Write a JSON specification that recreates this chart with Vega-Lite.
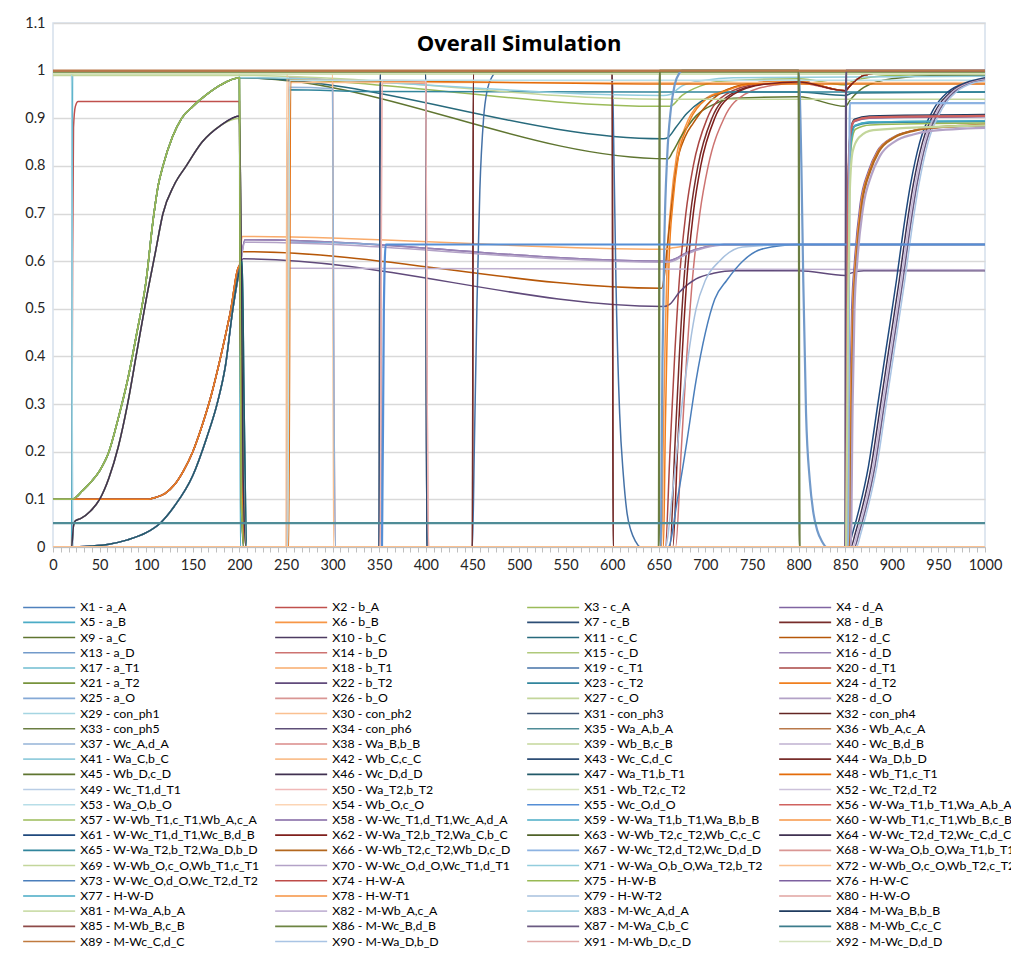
{
"$schema":"https://vega.github.io/schema/vega-lite/v6.json",
"width":932,"height":524,
"autosize":{"type":"none"},
"padding":{"left":53,"top":23,"right":26,"bottom":407},
"background":"white",
"config":{"view":{"stroke":"#D5DFEC","strokeWidth":1.5},"font":"Lato"},
"title":{"text":"Overall Simulation","fontSize":22,"fontWeight":"bold","font":"Open Sans","color":"#000000","anchor":"middle","offset":-41},
"datasets":{
"names":[
{"k":1,"n":"X1 - a_A"},{"k":2,"n":"X2 - b_A"},{"k":3,"n":"X3 - c_A"},{"k":4,"n":"X4 - d_A"},
{"k":5,"n":"X5 - a_B"},{"k":6,"n":"X6 - b_B"},{"k":7,"n":"X7 - c_B"},{"k":8,"n":"X8 - d_B"},
{"k":9,"n":"X9 - a_C"},{"k":10,"n":"X10 - b_C"},{"k":11,"n":"X11 - c_C"},{"k":12,"n":"X12 - d_C"},
{"k":13,"n":"X13 - a_D"},{"k":14,"n":"X14 - b_D"},{"k":15,"n":"X15 - c_D"},{"k":16,"n":"X16 - d_D"},
{"k":17,"n":"X17 - a_T1"},{"k":18,"n":"X18 - b_T1"},{"k":19,"n":"X19 - c_T1"},{"k":20,"n":"X20 - d_T1"},
{"k":21,"n":"X21 - a_T2"},{"k":22,"n":"X22 - b_T2"},{"k":23,"n":"X23 - c_T2"},{"k":24,"n":"X24 - d_T2"},
{"k":25,"n":"X25 - a_O"},{"k":26,"n":"X26 - b_O"},{"k":27,"n":"X27 - c_O"},{"k":28,"n":"X28 - d_O"},
{"k":29,"n":"X29 - con_ph1"},{"k":30,"n":"X30 - con_ph2"},{"k":31,"n":"X31 - con_ph3"},{"k":32,"n":"X32 - con_ph4"},
{"k":33,"n":"X33 - con_ph5"},{"k":34,"n":"X34 - con_ph6"},{"k":35,"n":"X35 - Wa_A,b_A"},{"k":36,"n":"X36 - Wb_A,c_A"},
{"k":37,"n":"X37 - Wc_A,d_A"},{"k":38,"n":"X38 - Wa_B,b_B"},{"k":39,"n":"X39 - Wb_B,c_B"},{"k":40,"n":"X40 - Wc_B,d_B"},
{"k":41,"n":"X41 - Wa_C,b_C"},{"k":42,"n":"X42 - Wb_C,c_C"},{"k":43,"n":"X43 - Wc_C,d_C"},{"k":44,"n":"X44 - Wa_D,b_D"},
{"k":45,"n":"X45 - Wb_D,c_D"},{"k":46,"n":"X46 - Wc_D,d_D"},{"k":47,"n":"X47 - Wa_T1,b_T1"},{"k":48,"n":"X48 - Wb_T1,c_T1"},
{"k":49,"n":"X49 - Wc_T1,d_T1"},{"k":50,"n":"X50 - Wa_T2,b_T2"},{"k":51,"n":"X51 - Wb_T2,c_T2"},{"k":52,"n":"X52 - Wc_T2,d_T2"},
{"k":53,"n":"X53 - Wa_O,b_O"},{"k":54,"n":"X54 - Wb_O,c_O"},{"k":55,"n":"X55 - Wc_O,d_O"},{"k":56,"n":"X56 - W-Wa_T1,b_T1,Wa_A,b_A"},
{"k":57,"n":"X57 - W-Wb_T1,c_T1,Wb_A,c_A"},{"k":58,"n":"X58 - W-Wc_T1,d_T1,Wc_A,d_A"},{"k":59,"n":"X59 - W-Wa_T1,b_T1,Wa_B,b_B"},{"k":60,"n":"X60 - W-Wb_T1,c_T1,Wb_B,c_B"},
{"k":61,"n":"X61 - W-Wc_T1,d_T1,Wc_B,d_B"},{"k":62,"n":"X62 - W-Wa_T2,b_T2,Wa_C,b_C"},{"k":63,"n":"X63 - W-Wb_T2,c_T2,Wb_C,c_C"},{"k":64,"n":"X64 - W-Wc_T2,d_T2,Wc_C,d_C"},
{"k":65,"n":"X65 - W-Wa_T2,b_T2,Wa_D,b_D"},{"k":66,"n":"X66 - W-Wb_T2,c_T2,Wb_D,c_D"},{"k":67,"n":"X67 - W-Wc_T2,d_T2,Wc_D,d_D"},{"k":68,"n":"X68 - W-Wa_O,b_O,Wa_T1,b_T1"},
{"k":69,"n":"X69 - W-Wb_O,c_O,Wb_T1,c_T1"},{"k":70,"n":"X70 - W-Wc_O,d_O,Wc_T1,d_T1"},{"k":71,"n":"X71 - W-Wa_O,b_O,Wa_T2,b_T2"},{"k":72,"n":"X72 - W-Wb_O,c_O,Wb_T2,c_T2"},
{"k":73,"n":"X73 - W-Wc_O,d_O,Wc_T2,d_T2"},{"k":74,"n":"X74 - H-W-A"},{"k":75,"n":"X75 - H-W-B"},{"k":76,"n":"X76 - H-W-C"},
{"k":77,"n":"X77 - H-W-D"},{"k":78,"n":"X78 - H-W-T1"},{"k":79,"n":"X79 - H-W-T2"},{"k":80,"n":"X80 - H-W-O"},
{"k":81,"n":"X81 - M-Wa_A,b_A"},{"k":82,"n":"X82 - M-Wb_A,c_A"},{"k":83,"n":"X83 - M-Wc_A,d_A"},{"k":84,"n":"X84 - M-Wa_B,b_B"},
{"k":85,"n":"X85 - M-Wb_B,c_B"},{"k":86,"n":"X86 - M-Wc_B,d_B"},{"k":87,"n":"X87 - M-Wa_C,b_C"},{"k":88,"n":"X88 - M-Wb_C,c_C"},
{"k":89,"n":"X89 - M-Wc_C,d_C"},{"k":90,"n":"X90 - M-Wa_D,b_D"},{"k":91,"n":"X91 - M-Wb_D,c_D"},{"k":92,"n":"X92 - M-Wc_D,d_D"}
],
"pts":[
{"k":1,"t":0,"v":1},{"k":1,"t":20,"v":1},{"k":1,"t":21,"v":0},{"k":1,"t":1000,"v":0},
{"k":2,"t":0,"v":0},{"k":2,"t":20,"v":0},{"k":2,"t":21,"v":0.6},{"k":2,"t":22,"v":0.88},{"k":2,"t":24,"v":0.925},{"k":2,"t":27,"v":0.935},{"k":2,"t":200,"v":0.935},{"k":2,"t":201,"v":0.6},{"k":2,"t":202,"v":0.15},{"k":2,"t":204,"v":0},{"k":2,"t":1000,"v":0},
{"k":3,"t":0,"v":0.1},{"k":3,"t":20,"v":0.1},{"k":3,"t":25,"v":0.105},{"k":3,"t":30,"v":0.115},{"k":3,"t":40,"v":0.135},{"k":3,"t":50,"v":0.16},{"k":3,"t":60,"v":0.2},{"k":3,"t":70,"v":0.27},{"k":3,"t":80,"v":0.35},{"k":3,"t":90,"v":0.45},{"k":3,"t":100,"v":0.56},{"k":3,"t":107,"v":0.68},{"k":3,"t":113,"v":0.76},{"k":3,"t":118,"v":0.8},{"k":3,"t":128,"v":0.86},{"k":3,"t":138,"v":0.9},{"k":3,"t":150,"v":0.925},{"k":3,"t":165,"v":0.95},{"k":3,"t":180,"v":0.97},{"k":3,"t":200,"v":0.985},
{"k":3,"t":655,"v":0.925},{"k":3,"t":662,"v":0.925},{"k":3,"t":675,"v":0.948},{"k":3,"t":695,"v":0.968},{"k":3,"t":720,"v":0.978},{"k":3,"t":800,"v":0.983},{"k":3,"t":850,"v":0.97},{"k":3,"t":860,"v":0.98},{"k":3,"t":900,"v":0.99},{"k":3,"t":1000,"v":0.993},
{"k":4,"t":0,"v":0},{"k":4,"t":20,"v":0},{"k":4,"t":40,"v":0.002},{"k":4,"t":60,"v":0.006},{"k":4,"t":80,"v":0.015},{"k":4,"t":100,"v":0.03},{"k":4,"t":115,"v":0.05},{"k":4,"t":130,"v":0.085},{"k":4,"t":150,"v":0.15},{"k":4,"t":165,"v":0.23},{"k":4,"t":176,"v":0.3},{"k":4,"t":185,"v":0.38},{"k":4,"t":193,"v":0.5},{"k":4,"t":200,"v":0.58},
{"k":4,"t":206,"v":0.645},{"k":4,"t":658,"v":0.6},{"k":4,"t":665,"v":0.603},{"k":4,"t":680,"v":0.618},{"k":4,"t":700,"v":0.63},{"k":4,"t":720,"v":0.635},{"k":4,"t":1000,"v":0.635},
{"k":5,"t":0,"v":0},{"k":5,"t":20,"v":0},{"k":5,"t":21,"v":1},{"k":5,"t":200,"v":1},{"k":5,"t":201,"v":0},{"k":5,"t":1000,"v":0},
{"k":6,"t":0,"v":0.1},{"k":6,"t":100,"v":0.1},{"k":6,"t":110,"v":0.104},{"k":6,"t":120,"v":0.112},{"k":6,"t":130,"v":0.13},{"k":6,"t":140,"v":0.16},{"k":6,"t":150,"v":0.2},{"k":6,"t":160,"v":0.255},{"k":6,"t":170,"v":0.32},{"k":6,"t":180,"v":0.4},{"k":6,"t":190,"v":0.49},{"k":6,"t":200,"v":0.59},
{"k":6,"t":201,"v":0.5},{"k":6,"t":203,"v":0.1},{"k":6,"t":205,"v":0},{"k":6,"t":653,"v":0},{"k":6,"t":655,"v":0.25},{"k":6,"t":657,"v":0.45},{"k":6,"t":659,"v":0.6},{"k":6,"t":663,"v":0.72},{"k":6,"t":669,"v":0.82},{"k":6,"t":678,"v":0.88},{"k":6,"t":693,"v":0.93},{"k":6,"t":723,"v":0.96},{"k":6,"t":758,"v":0.975},{"k":6,"t":800,"v":0.978},{"k":6,"t":850,"v":0.958},{"k":6,"t":856,"v":0.97},{"k":6,"t":870,"v":0.99},{"k":6,"t":900,"v":0.998},{"k":6,"t":1000,"v":1},
{"k":7,"t":0,"v":0},{"k":7,"t":350,"v":0},{"k":7,"t":351,"v":1},{"k":7,"t":400,"v":1},{"k":7,"t":401,"v":0},{"k":7,"t":1000,"v":0},
{"k":8,"t":0,"v":0.1},{"k":8,"t":100,"v":0.1},{"k":8,"t":110,"v":0.104},{"k":8,"t":120,"v":0.112},{"k":8,"t":130,"v":0.13},{"k":8,"t":140,"v":0.16},{"k":8,"t":150,"v":0.2},{"k":8,"t":160,"v":0.255},{"k":8,"t":170,"v":0.32},{"k":8,"t":180,"v":0.4},{"k":8,"t":190,"v":0.49},{"k":8,"t":200,"v":0.59},
{"k":8,"t":201,"v":0.5},{"k":8,"t":203,"v":0.1},{"k":8,"t":205,"v":0},{"k":8,"t":662,"v":0},{"k":8,"t":667,"v":0.2},{"k":8,"t":672,"v":0.4},{"k":8,"t":677,"v":0.56},{"k":8,"t":684,"v":0.7},{"k":8,"t":692,"v":0.8},{"k":8,"t":707,"v":0.9},{"k":8,"t":727,"v":0.95},{"k":8,"t":762,"v":0.972},{"k":8,"t":800,"v":0.976},{"k":8,"t":850,"v":0.958},{"k":8,"t":856,"v":0.97},{"k":8,"t":870,"v":0.99},{"k":8,"t":900,"v":0.998},{"k":8,"t":1000,"v":1},
{"k":9,"t":0,"v":0.1},{"k":9,"t":20,"v":0.1},{"k":9,"t":25,"v":0.105},{"k":9,"t":30,"v":0.115},{"k":9,"t":40,"v":0.135},{"k":9,"t":50,"v":0.16},{"k":9,"t":60,"v":0.2},{"k":9,"t":70,"v":0.27},{"k":9,"t":80,"v":0.35},{"k":9,"t":90,"v":0.45},{"k":9,"t":100,"v":0.56},{"k":9,"t":107,"v":0.68},{"k":9,"t":113,"v":0.76},{"k":9,"t":118,"v":0.8},{"k":9,"t":128,"v":0.86},{"k":9,"t":138,"v":0.9},{"k":9,"t":150,"v":0.925},{"k":9,"t":165,"v":0.95},{"k":9,"t":180,"v":0.97},{"k":9,"t":200,"v":0.985},
{"k":9,"t":660,"v":0.815},{"k":9,"t":665,"v":0.83},{"k":9,"t":675,"v":0.865},{"k":9,"t":690,"v":0.905},{"k":9,"t":710,"v":0.93},{"k":9,"t":730,"v":0.942},{"k":9,"t":800,"v":0.945},{"k":9,"t":850,"v":0.925},{"k":9,"t":856,"v":0.94},{"k":9,"t":870,"v":0.965},{"k":9,"t":900,"v":0.983},{"k":9,"t":950,"v":0.99},{"k":9,"t":1000,"v":0.99},
{"k":10,"t":0,"v":0},{"k":10,"t":20,"v":0},{"k":10,"t":22,"v":0.045},{"k":10,"t":24,"v":0.055},{"k":10,"t":30,"v":0.06},{"k":10,"t":40,"v":0.075},{"k":10,"t":50,"v":0.1},{"k":10,"t":60,"v":0.145},{"k":10,"t":70,"v":0.21},{"k":10,"t":80,"v":0.3},{"k":10,"t":90,"v":0.41},{"k":10,"t":100,"v":0.52},{"k":10,"t":110,"v":0.62},{"k":10,"t":118,"v":0.7},{"k":10,"t":130,"v":0.76},{"k":10,"t":143,"v":0.8},{"k":10,"t":160,"v":0.85},{"k":10,"t":180,"v":0.885},{"k":10,"t":200,"v":0.905},{"k":10,"t":202,"v":0.6},{"k":10,"t":204,"v":0.15},{"k":10,"t":207,"v":0},{"k":10,"t":1000,"v":0},
{"k":11,"t":0,"v":0.1},{"k":11,"t":20,"v":0.1},{"k":11,"t":25,"v":0.105},{"k":11,"t":30,"v":0.115},{"k":11,"t":40,"v":0.135},{"k":11,"t":50,"v":0.16},{"k":11,"t":60,"v":0.2},{"k":11,"t":70,"v":0.27},{"k":11,"t":80,"v":0.35},{"k":11,"t":90,"v":0.45},{"k":11,"t":100,"v":0.56},{"k":11,"t":107,"v":0.68},{"k":11,"t":113,"v":0.76},{"k":11,"t":118,"v":0.8},{"k":11,"t":128,"v":0.86},{"k":11,"t":138,"v":0.9},{"k":11,"t":150,"v":0.925},{"k":11,"t":165,"v":0.95},{"k":11,"t":180,"v":0.97},{"k":11,"t":200,"v":0.985},
{"k":11,"t":655,"v":0.857},{"k":11,"t":660,"v":0.86},{"k":11,"t":668,"v":0.88},{"k":11,"t":680,"v":0.91},{"k":11,"t":695,"v":0.935},{"k":11,"t":710,"v":0.948},{"k":11,"t":730,"v":0.955},{"k":11,"t":800,"v":0.955},{"k":11,"t":850,"v":0.948},{"k":11,"t":858,"v":0.953},{"k":11,"t":1000,"v":0.955},
{"k":12,"t":0,"v":0.1},{"k":12,"t":100,"v":0.1},{"k":12,"t":110,"v":0.104},{"k":12,"t":120,"v":0.112},{"k":12,"t":130,"v":0.13},{"k":12,"t":140,"v":0.16},{"k":12,"t":150,"v":0.2},{"k":12,"t":160,"v":0.255},{"k":12,"t":170,"v":0.32},{"k":12,"t":180,"v":0.4},{"k":12,"t":190,"v":0.49},{"k":12,"t":200,"v":0.59},
{"k":12,"t":203,"v":0.62},{"k":12,"t":653,"v":0.543},{"k":12,"t":656,"v":0.57},{"k":12,"t":659,"v":0.63},{"k":12,"t":664,"v":0.72},{"k":12,"t":669,"v":0.8},{"k":12,"t":678,"v":0.86},{"k":12,"t":687,"v":0.89},{"k":12,"t":705,"v":0.935},{"k":12,"t":723,"v":0.96},{"k":12,"t":758,"v":0.975},{"k":12,"t":800,"v":0.978},{"k":12,"t":850,"v":0.958},{"k":12,"t":856,"v":0.97},{"k":12,"t":870,"v":0.99},{"k":12,"t":900,"v":0.998},{"k":12,"t":1000,"v":1},
{"k":13,"t":0,"v":0},{"k":13,"t":652,"v":0},{"k":13,"t":654,"v":0.4},{"k":13,"t":656,"v":0.65},{"k":13,"t":659,"v":0.82},{"k":13,"t":663,"v":0.92},{"k":13,"t":667,"v":0.97},{"k":13,"t":672,"v":0.995},{"k":13,"t":675,"v":1},{"k":13,"t":800,"v":1},{"k":13,"t":803,"v":0.8},{"k":13,"t":805,"v":0.56},{"k":13,"t":808,"v":0.28},{"k":13,"t":812,"v":0.14},{"k":13,"t":816,"v":0.07},{"k":13,"t":820,"v":0.035},{"k":13,"t":825,"v":0.012},{"k":13,"t":830,"v":0},{"k":13,"t":1000,"v":0},
{"k":14,"t":0,"v":0},{"k":14,"t":668,"v":0},{"k":14,"t":674,"v":0.2},{"k":14,"t":680,"v":0.4},{"k":14,"t":686,"v":0.56},{"k":14,"t":694,"v":0.7},{"k":14,"t":703,"v":0.8},{"k":14,"t":720,"v":0.9},{"k":14,"t":742,"v":0.95},{"k":14,"t":775,"v":0.97},{"k":14,"t":800,"v":0.974},{"k":14,"t":850,"v":0.958},{"k":14,"t":856,"v":0.97},{"k":14,"t":870,"v":0.99},{"k":14,"t":900,"v":0.998},{"k":14,"t":1000,"v":1},
{"k":15,"t":0,"v":0},{"k":15,"t":20,"v":0},{"k":15,"t":22,"v":0.045},{"k":15,"t":24,"v":0.055},{"k":15,"t":30,"v":0.06},{"k":15,"t":40,"v":0.075},{"k":15,"t":50,"v":0.1},{"k":15,"t":60,"v":0.145},{"k":15,"t":70,"v":0.21},{"k":15,"t":80,"v":0.3},{"k":15,"t":90,"v":0.41},{"k":15,"t":100,"v":0.52},{"k":15,"t":110,"v":0.62},{"k":15,"t":118,"v":0.7},{"k":15,"t":130,"v":0.76},{"k":15,"t":143,"v":0.8},{"k":15,"t":160,"v":0.85},{"k":15,"t":180,"v":0.885},{"k":15,"t":200,"v":0.9},{"k":15,"t":202,"v":0.6},{"k":15,"t":204,"v":0.15},{"k":15,"t":207,"v":0},{"k":15,"t":1000,"v":0},
{"k":16,"t":0,"v":0},{"k":16,"t":20,"v":0},{"k":16,"t":40,"v":0.002},{"k":16,"t":60,"v":0.006},{"k":16,"t":80,"v":0.015},{"k":16,"t":100,"v":0.03},{"k":16,"t":115,"v":0.05},{"k":16,"t":130,"v":0.085},{"k":16,"t":150,"v":0.15},{"k":16,"t":165,"v":0.23},{"k":16,"t":176,"v":0.3},{"k":16,"t":185,"v":0.38},{"k":16,"t":193,"v":0.5},{"k":16,"t":200,"v":0.58},
{"k":16,"t":206,"v":0.645},{"k":16,"t":658,"v":0.6},{"k":16,"t":665,"v":0.603},{"k":16,"t":680,"v":0.618},{"k":16,"t":700,"v":0.63},{"k":16,"t":720,"v":0.635},{"k":16,"t":1000,"v":0.635},
{"k":17,"t":0,"v":0.1},{"k":17,"t":20,"v":0.1},{"k":17,"t":25,"v":0.105},{"k":17,"t":30,"v":0.115},{"k":17,"t":40,"v":0.135},{"k":17,"t":50,"v":0.16},{"k":17,"t":60,"v":0.2},{"k":17,"t":70,"v":0.27},{"k":17,"t":80,"v":0.35},{"k":17,"t":90,"v":0.45},{"k":17,"t":100,"v":0.56},{"k":17,"t":107,"v":0.68},{"k":17,"t":113,"v":0.76},{"k":17,"t":118,"v":0.8},{"k":17,"t":128,"v":0.86},{"k":17,"t":138,"v":0.9},{"k":17,"t":150,"v":0.925},{"k":17,"t":165,"v":0.95},{"k":17,"t":180,"v":0.97},{"k":17,"t":200,"v":0.985},
{"k":17,"t":201,"v":0.6},{"k":17,"t":202,"v":0.15},{"k":17,"t":204,"v":0},{"k":17,"t":1000,"v":0},
{"k":18,"t":0,"v":0.1},{"k":18,"t":100,"v":0.1},{"k":18,"t":110,"v":0.104},{"k":18,"t":120,"v":0.112},{"k":18,"t":130,"v":0.13},{"k":18,"t":140,"v":0.16},{"k":18,"t":150,"v":0.2},{"k":18,"t":160,"v":0.255},{"k":18,"t":170,"v":0.32},{"k":18,"t":180,"v":0.4},{"k":18,"t":190,"v":0.49},{"k":18,"t":200,"v":0.59},
{"k":18,"t":203,"v":0.652},{"k":18,"t":655,"v":0.625},{"k":18,"t":665,"v":0.628},{"k":18,"t":690,"v":0.634},{"k":18,"t":1000,"v":0.635},
{"k":19,"t":0,"v":0},{"k":19,"t":450,"v":0},{"k":19,"t":452,"v":0.2},{"k":19,"t":455,"v":0.52},{"k":19,"t":458,"v":0.75},{"k":19,"t":462,"v":0.9},{"k":19,"t":466,"v":0.96},{"k":19,"t":472,"v":0.99},{"k":19,"t":476,"v":1},{"k":19,"t":600,"v":1},{"k":19,"t":602,"v":0.8},{"k":19,"t":604,"v":0.56},{"k":19,"t":608,"v":0.28},{"k":19,"t":612,"v":0.15},{"k":19,"t":616,"v":0.07},{"k":19,"t":620,"v":0.035},{"k":19,"t":625,"v":0.012},{"k":19,"t":630,"v":0},{"k":19,"t":1000,"v":0},
{"k":20,"t":0,"v":0.1},{"k":20,"t":100,"v":0.1},{"k":20,"t":110,"v":0.104},{"k":20,"t":120,"v":0.112},{"k":20,"t":130,"v":0.13},{"k":20,"t":140,"v":0.16},{"k":20,"t":150,"v":0.2},{"k":20,"t":160,"v":0.255},{"k":20,"t":170,"v":0.32},{"k":20,"t":180,"v":0.4},{"k":20,"t":190,"v":0.49},{"k":20,"t":200,"v":0.59},
{"k":20,"t":201,"v":0.5},{"k":20,"t":203,"v":0.1},{"k":20,"t":205,"v":0},{"k":20,"t":657,"v":0},{"k":20,"t":662,"v":0.2},{"k":20,"t":667,"v":0.4},{"k":20,"t":672,"v":0.56},{"k":20,"t":679,"v":0.7},{"k":20,"t":687,"v":0.8},{"k":20,"t":702,"v":0.9},{"k":20,"t":722,"v":0.95},{"k":20,"t":757,"v":0.972},{"k":20,"t":800,"v":0.976},{"k":20,"t":850,"v":0.958},{"k":20,"t":856,"v":0.97},{"k":20,"t":870,"v":0.99},{"k":20,"t":900,"v":0.998},{"k":20,"t":1000,"v":1},
{"k":21,"t":0,"v":0.1},{"k":21,"t":20,"v":0.1},{"k":21,"t":25,"v":0.105},{"k":21,"t":30,"v":0.115},{"k":21,"t":40,"v":0.135},{"k":21,"t":50,"v":0.16},{"k":21,"t":60,"v":0.2},{"k":21,"t":70,"v":0.27},{"k":21,"t":80,"v":0.35},{"k":21,"t":90,"v":0.45},{"k":21,"t":100,"v":0.56},{"k":21,"t":107,"v":0.68},{"k":21,"t":113,"v":0.76},{"k":21,"t":118,"v":0.8},{"k":21,"t":128,"v":0.86},{"k":21,"t":138,"v":0.9},{"k":21,"t":150,"v":0.925},{"k":21,"t":165,"v":0.95},{"k":21,"t":180,"v":0.97},{"k":21,"t":200,"v":0.985},
{"k":21,"t":201,"v":0.5},{"k":21,"t":202,"v":0.1},{"k":21,"t":205,"v":0},{"k":21,"t":1000,"v":0},
{"k":22,"t":0,"v":0.1},{"k":22,"t":100,"v":0.1},{"k":22,"t":110,"v":0.104},{"k":22,"t":120,"v":0.112},{"k":22,"t":130,"v":0.13},{"k":22,"t":140,"v":0.16},{"k":22,"t":150,"v":0.2},{"k":22,"t":160,"v":0.255},{"k":22,"t":170,"v":0.32},{"k":22,"t":180,"v":0.4},{"k":22,"t":190,"v":0.49},{"k":22,"t":200,"v":0.59},
{"k":22,"t":204,"v":0.605},{"k":22,"t":655,"v":0.505},{"k":22,"t":662,"v":0.51},{"k":22,"t":672,"v":0.535},{"k":22,"t":690,"v":0.563},{"k":22,"t":710,"v":0.575},{"k":22,"t":730,"v":0.58},{"k":22,"t":800,"v":0.58},{"k":22,"t":850,"v":0.57},{"k":22,"t":856,"v":0.575},{"k":22,"t":870,"v":0.58},{"k":22,"t":1000,"v":0.58},
{"k":23,"t":0,"v":0},{"k":23,"t":20,"v":0},{"k":23,"t":40,"v":0.002},{"k":23,"t":60,"v":0.006},{"k":23,"t":80,"v":0.015},{"k":23,"t":100,"v":0.03},{"k":23,"t":115,"v":0.05},{"k":23,"t":130,"v":0.085},{"k":23,"t":150,"v":0.15},{"k":23,"t":165,"v":0.23},{"k":23,"t":176,"v":0.3},{"k":23,"t":185,"v":0.38},{"k":23,"t":193,"v":0.5},{"k":23,"t":200,"v":0.58},
{"k":23,"t":203,"v":0.6},{"k":23,"t":205,"v":0.3},{"k":23,"t":208,"v":0},{"k":23,"t":251,"v":0},{"k":23,"t":253,"v":0.96},{"k":23,"t":350,"v":0.956},{"k":23,"t":1000,"v":0.955},
{"k":24,"t":0,"v":0.1},{"k":24,"t":100,"v":0.1},{"k":24,"t":110,"v":0.104},{"k":24,"t":120,"v":0.112},{"k":24,"t":130,"v":0.13},{"k":24,"t":140,"v":0.16},{"k":24,"t":150,"v":0.2},{"k":24,"t":160,"v":0.255},{"k":24,"t":170,"v":0.32},{"k":24,"t":180,"v":0.4},{"k":24,"t":190,"v":0.49},{"k":24,"t":200,"v":0.59},
{"k":24,"t":201,"v":0.5},{"k":24,"t":203,"v":0.1},{"k":24,"t":205,"v":0},{"k":24,"t":655,"v":0},{"k":24,"t":657,"v":0.25},{"k":24,"t":659,"v":0.45},{"k":24,"t":661,"v":0.6},{"k":24,"t":665,"v":0.72},{"k":24,"t":671,"v":0.82},{"k":24,"t":680,"v":0.88},{"k":24,"t":695,"v":0.93},{"k":24,"t":725,"v":0.96},{"k":24,"t":760,"v":0.975},{"k":24,"t":800,"v":0.978},{"k":24,"t":850,"v":0.958},{"k":24,"t":856,"v":0.97},{"k":24,"t":870,"v":0.99},{"k":24,"t":900,"v":0.998},{"k":24,"t":1000,"v":1},
{"k":25,"t":0,"v":0},{"k":25,"t":251,"v":0},{"k":25,"t":253,"v":0.64},{"k":25,"t":352,"v":0.635},{"k":25,"t":353,"v":0},{"k":25,"t":1000,"v":0},
{"k":26,"t":0,"v":0},{"k":26,"t":251,"v":0},{"k":26,"t":253,"v":0.985},{"k":26,"t":300,"v":0.98},{"k":26,"t":301,"v":0.5},{"k":26,"t":303,"v":0},{"k":26,"t":1000,"v":0},
{"k":27,"t":0,"v":0.99},{"k":27,"t":200,"v":0.99},{"k":27,"t":655,"v":0.94},{"k":27,"t":1000,"v":0.94},
{"k":28,"t":0,"v":0},{"k":28,"t":20,"v":0},{"k":28,"t":40,"v":0.002},{"k":28,"t":60,"v":0.006},{"k":28,"t":80,"v":0.015},{"k":28,"t":100,"v":0.03},{"k":28,"t":115,"v":0.05},{"k":28,"t":130,"v":0.085},{"k":28,"t":150,"v":0.15},{"k":28,"t":165,"v":0.23},{"k":28,"t":176,"v":0.3},{"k":28,"t":185,"v":0.38},{"k":28,"t":193,"v":0.5},{"k":28,"t":200,"v":0.58},
{"k":28,"t":206,"v":0.64},{"k":28,"t":658,"v":0.598},{"k":28,"t":665,"v":0.6},{"k":28,"t":680,"v":0.615},{"k":28,"t":700,"v":0.628},{"k":28,"t":720,"v":0.634},{"k":28,"t":1000,"v":0.635},
{"k":29,"t":0,"v":1},{"k":29,"t":20,"v":1},{"k":29,"t":21,"v":0},{"k":29,"t":1000,"v":0},
{"k":30,"t":0,"v":0},{"k":30,"t":250,"v":0},{"k":30,"t":251,"v":1},{"k":30,"t":300,"v":1},{"k":30,"t":301,"v":0},{"k":30,"t":1000,"v":0},
{"k":31,"t":0,"v":0},{"k":31,"t":350,"v":0},{"k":31,"t":351,"v":1},{"k":31,"t":400,"v":1},{"k":31,"t":401,"v":0},{"k":31,"t":1000,"v":0},
{"k":32,"t":0,"v":0},{"k":32,"t":450,"v":0},{"k":32,"t":451,"v":1},{"k":32,"t":600,"v":1},{"k":32,"t":601,"v":0},{"k":32,"t":1000,"v":0},
{"k":33,"t":0,"v":0},{"k":33,"t":650,"v":0},{"k":33,"t":651,"v":1},{"k":33,"t":800,"v":1},{"k":33,"t":801,"v":0},{"k":33,"t":1000,"v":0},
{"k":34,"t":0,"v":0},{"k":34,"t":850,"v":0},{"k":34,"t":851,"v":1},{"k":34,"t":1000,"v":1},
{"k":35,"t":0,"v":0.05},{"k":35,"t":1000,"v":0.05},
{"k":36,"t":0,"v":1},{"k":36,"t":1000,"v":1},
{"k":37,"t":0,"v":0},{"k":37,"t":251,"v":0},{"k":37,"t":253,"v":0.965},{"k":37,"t":300,"v":0.962},{"k":37,"t":301,"v":0.5},{"k":37,"t":303,"v":0},{"k":37,"t":1000,"v":0},
{"k":38,"t":0,"v":0},{"k":38,"t":351,"v":0},{"k":38,"t":353,"v":0.975},{"k":38,"t":400,"v":0.972},{"k":38,"t":401,"v":0.5},{"k":38,"t":403,"v":0},{"k":38,"t":1000,"v":0},
{"k":39,"t":0,"v":0.993},{"k":39,"t":1000,"v":0.993},
{"k":40,"t":0,"v":0},{"k":40,"t":251,"v":0},{"k":40,"t":253,"v":0.585},{"k":40,"t":1000,"v":0.582},
{"k":41,"t":0,"v":0.1},{"k":41,"t":20,"v":0.1},{"k":41,"t":25,"v":0.105},{"k":41,"t":30,"v":0.115},{"k":41,"t":40,"v":0.135},{"k":41,"t":50,"v":0.16},{"k":41,"t":60,"v":0.2},{"k":41,"t":70,"v":0.27},{"k":41,"t":80,"v":0.35},{"k":41,"t":90,"v":0.45},{"k":41,"t":100,"v":0.56},{"k":41,"t":107,"v":0.68},{"k":41,"t":113,"v":0.76},{"k":41,"t":118,"v":0.8},{"k":41,"t":128,"v":0.86},{"k":41,"t":138,"v":0.9},{"k":41,"t":150,"v":0.925},{"k":41,"t":165,"v":0.95},{"k":41,"t":180,"v":0.97},{"k":41,"t":200,"v":0.985},
{"k":41,"t":655,"v":0.948},{"k":41,"t":662,"v":0.95},{"k":41,"t":675,"v":0.968},{"k":41,"t":700,"v":0.98},{"k":41,"t":730,"v":0.985},{"k":41,"t":1000,"v":0.988},
{"k":42,"t":0,"v":0},{"k":42,"t":251,"v":0},{"k":42,"t":253,"v":0.975},{"k":42,"t":1000,"v":0.975},
{"k":43,"t":0,"v":0},{"k":43,"t":350,"v":0},{"k":43,"t":351,"v":1},{"k":43,"t":400,"v":1},{"k":43,"t":401,"v":0},{"k":43,"t":1000,"v":0},
{"k":44,"t":0,"v":0},{"k":44,"t":450,"v":0},{"k":44,"t":451,"v":1},{"k":44,"t":600,"v":1},{"k":44,"t":601,"v":0},{"k":44,"t":1000,"v":0},
{"k":45,"t":0,"v":0.1},{"k":45,"t":20,"v":0.1},{"k":45,"t":25,"v":0.105},{"k":45,"t":30,"v":0.115},{"k":45,"t":40,"v":0.135},{"k":45,"t":50,"v":0.16},{"k":45,"t":60,"v":0.2},{"k":45,"t":70,"v":0.27},{"k":45,"t":80,"v":0.35},{"k":45,"t":90,"v":0.45},{"k":45,"t":100,"v":0.56},{"k":45,"t":107,"v":0.68},{"k":45,"t":113,"v":0.76},{"k":45,"t":118,"v":0.8},{"k":45,"t":128,"v":0.86},{"k":45,"t":138,"v":0.9},{"k":45,"t":150,"v":0.925},{"k":45,"t":165,"v":0.95},{"k":45,"t":180,"v":0.97},{"k":45,"t":200,"v":0.985},
{"k":45,"t":201,"v":0.5},{"k":45,"t":202,"v":0.1},{"k":45,"t":205,"v":0},{"k":45,"t":1000,"v":0},
{"k":46,"t":0,"v":0},{"k":46,"t":20,"v":0},{"k":46,"t":22,"v":0.045},{"k":46,"t":24,"v":0.055},{"k":46,"t":30,"v":0.06},{"k":46,"t":40,"v":0.075},{"k":46,"t":50,"v":0.1},{"k":46,"t":60,"v":0.145},{"k":46,"t":70,"v":0.21},{"k":46,"t":80,"v":0.3},{"k":46,"t":90,"v":0.41},{"k":46,"t":100,"v":0.52},{"k":46,"t":110,"v":0.62},{"k":46,"t":118,"v":0.7},{"k":46,"t":130,"v":0.76},{"k":46,"t":143,"v":0.8},{"k":46,"t":160,"v":0.85},{"k":46,"t":180,"v":0.885},{"k":46,"t":200,"v":0.905},{"k":46,"t":202,"v":0.6},{"k":46,"t":204,"v":0.15},{"k":46,"t":207,"v":0},{"k":46,"t":1000,"v":0},
{"k":47,"t":0,"v":0},{"k":47,"t":20,"v":0},{"k":47,"t":40,"v":0.002},{"k":47,"t":60,"v":0.006},{"k":47,"t":80,"v":0.015},{"k":47,"t":100,"v":0.03},{"k":47,"t":115,"v":0.05},{"k":47,"t":130,"v":0.085},{"k":47,"t":150,"v":0.15},{"k":47,"t":165,"v":0.23},{"k":47,"t":176,"v":0.3},{"k":47,"t":185,"v":0.38},{"k":47,"t":193,"v":0.5},{"k":47,"t":200,"v":0.58},
{"k":47,"t":203,"v":0.6},{"k":47,"t":205,"v":0.3},{"k":47,"t":208,"v":0},{"k":47,"t":1000,"v":0},
{"k":48,"t":0,"v":0},{"k":48,"t":253,"v":0},{"k":48,"t":255,"v":0.98},{"k":48,"t":650,"v":0.972},{"k":48,"t":1000,"v":0.972},
{"k":49,"t":0,"v":0},{"k":49,"t":1000,"v":0},
{"k":50,"t":0,"v":0},{"k":50,"t":351,"v":0},{"k":50,"t":353,"v":0.98},{"k":50,"t":400,"v":0.978},{"k":50,"t":401,"v":0.5},{"k":50,"t":403,"v":0},{"k":50,"t":1000,"v":0},
{"k":51,"t":0,"v":0.995},{"k":51,"t":1000,"v":0.995},
{"k":52,"t":0,"v":0},{"k":52,"t":1000,"v":0},
{"k":53,"t":0,"v":0},{"k":53,"t":252,"v":0},{"k":53,"t":254,"v":0.98},{"k":53,"t":1000,"v":0.98},
{"k":54,"t":0,"v":0},{"k":54,"t":1000,"v":0},
{"k":55,"t":0,"v":0},{"k":55,"t":353,"v":0},{"k":55,"t":355,"v":0.5},{"k":55,"t":357,"v":0.635},{"k":55,"t":1000,"v":0.635},
{"k":56,"t":0,"v":0},{"k":56,"t":851,"v":0},{"k":56,"t":852,"v":0.4},{"k":56,"t":853,"v":0.7},{"k":56,"t":854,"v":0.82},{"k":56,"t":856,"v":0.875},{"k":56,"t":860,"v":0.895},{"k":56,"t":876,"v":0.902},{"k":56,"t":1000,"v":0.905},
{"k":57,"t":0,"v":0.1},{"k":57,"t":20,"v":0.1},{"k":57,"t":25,"v":0.105},{"k":57,"t":30,"v":0.115},{"k":57,"t":40,"v":0.135},{"k":57,"t":50,"v":0.16},{"k":57,"t":60,"v":0.2},{"k":57,"t":70,"v":0.27},{"k":57,"t":80,"v":0.35},{"k":57,"t":90,"v":0.45},{"k":57,"t":100,"v":0.56},{"k":57,"t":107,"v":0.68},{"k":57,"t":113,"v":0.76},{"k":57,"t":118,"v":0.8},{"k":57,"t":128,"v":0.86},{"k":57,"t":138,"v":0.9},{"k":57,"t":150,"v":0.925},{"k":57,"t":165,"v":0.95},{"k":57,"t":180,"v":0.97},{"k":57,"t":200,"v":0.985},
{"k":57,"t":201,"v":0.5},{"k":57,"t":202,"v":0.1},{"k":57,"t":205,"v":0},{"k":57,"t":1000,"v":0},
{"k":58,"t":0,"v":0},{"k":58,"t":853,"v":0},{"k":58,"t":855,"v":0.3},{"k":58,"t":857,"v":0.5},{"k":58,"t":860,"v":0.6},{"k":58,"t":866,"v":0.72},{"k":58,"t":875,"v":0.79},{"k":58,"t":884,"v":0.83},{"k":58,"t":901,"v":0.86},{"k":58,"t":920,"v":0.873},{"k":58,"t":937,"v":0.879},{"k":58,"t":1000,"v":0.884},
{"k":59,"t":0,"v":0},{"k":59,"t":851,"v":0},{"k":59,"t":852,"v":0.4},{"k":59,"t":853,"v":0.68},{"k":59,"t":854,"v":0.8},{"k":59,"t":856,"v":0.86},{"k":59,"t":860,"v":0.885},{"k":59,"t":876,"v":0.892},{"k":59,"t":1000,"v":0.895},
{"k":60,"t":0,"v":0},{"k":60,"t":854,"v":0},{"k":60,"t":856,"v":0.3},{"k":60,"t":858,"v":0.5},{"k":60,"t":861,"v":0.6},{"k":60,"t":867,"v":0.72},{"k":60,"t":876,"v":0.79},{"k":60,"t":885,"v":0.83},{"k":60,"t":902,"v":0.86},{"k":60,"t":921,"v":0.873},{"k":60,"t":938,"v":0.879},{"k":60,"t":1000,"v":0.886},
{"k":61,"t":0,"v":0},{"k":61,"t":853,"v":0},{"k":61,"t":858,"v":0.03},{"k":61,"t":865,"v":0.08},{"k":61,"t":875,"v":0.17},{"k":61,"t":885,"v":0.3},{"k":61,"t":895,"v":0.43},{"k":61,"t":905,"v":0.56},{"k":61,"t":912,"v":0.66},{"k":61,"t":920,"v":0.76},{"k":61,"t":930,"v":0.85},{"k":61,"t":945,"v":0.92},{"k":61,"t":960,"v":0.955},{"k":61,"t":980,"v":0.975},{"k":61,"t":1000,"v":0.985},
{"k":62,"t":0,"v":0},{"k":62,"t":665,"v":0},{"k":62,"t":670,"v":0.2},{"k":62,"t":675,"v":0.4},{"k":62,"t":680,"v":0.56},{"k":62,"t":687,"v":0.7},{"k":62,"t":695,"v":0.8},{"k":62,"t":710,"v":0.9},{"k":62,"t":730,"v":0.95},{"k":62,"t":765,"v":0.972},{"k":62,"t":800,"v":0.976},{"k":62,"t":850,"v":0.958},{"k":62,"t":856,"v":0.97},{"k":62,"t":870,"v":0.99},{"k":62,"t":900,"v":0.998},{"k":62,"t":1000,"v":1},
{"k":63,"t":0,"v":0},{"k":63,"t":650,"v":0},{"k":63,"t":651,"v":1},{"k":63,"t":800,"v":1},{"k":63,"t":801,"v":0},{"k":63,"t":1000,"v":0},
{"k":64,"t":0,"v":0},{"k":64,"t":856,"v":0},{"k":64,"t":861,"v":0.03},{"k":64,"t":868,"v":0.08},{"k":64,"t":878,"v":0.17},{"k":64,"t":888,"v":0.3},{"k":64,"t":898,"v":0.43},{"k":64,"t":908,"v":0.56},{"k":64,"t":915,"v":0.66},{"k":64,"t":923,"v":0.76},{"k":64,"t":933,"v":0.85},{"k":64,"t":948,"v":0.92},{"k":64,"t":963,"v":0.955},{"k":64,"t":983,"v":0.975},{"k":64,"t":1000,"v":0.983},
{"k":65,"t":0,"v":0},{"k":65,"t":851,"v":0},{"k":65,"t":852,"v":0.4},{"k":65,"t":853,"v":0.68},{"k":65,"t":854,"v":0.8},{"k":65,"t":856,"v":0.86},{"k":65,"t":860,"v":0.883},{"k":65,"t":876,"v":0.89},{"k":65,"t":1000,"v":0.893},
{"k":66,"t":0,"v":0},{"k":66,"t":855,"v":0},{"k":66,"t":857,"v":0.3},{"k":66,"t":859,"v":0.5},{"k":66,"t":862,"v":0.6},{"k":66,"t":868,"v":0.72},{"k":66,"t":877,"v":0.79},{"k":66,"t":886,"v":0.83},{"k":66,"t":903,"v":0.86},{"k":66,"t":922,"v":0.873},{"k":66,"t":939,"v":0.879},{"k":66,"t":1000,"v":0.886},
{"k":67,"t":0,"v":0},{"k":67,"t":853,"v":0},{"k":67,"t":855,"v":0.932},{"k":67,"t":1000,"v":0.932},
{"k":68,"t":0,"v":0},{"k":68,"t":1000,"v":0},
{"k":69,"t":0,"v":0},{"k":69,"t":851,"v":0},{"k":69,"t":853,"v":0.5},{"k":69,"t":855,"v":0.75},{"k":69,"t":858,"v":0.83},{"k":69,"t":865,"v":0.86},{"k":69,"t":880,"v":0.875},{"k":69,"t":1000,"v":0.885},
{"k":70,"t":0,"v":0},{"k":70,"t":856,"v":0},{"k":70,"t":858,"v":0.3},{"k":70,"t":860,"v":0.5},{"k":70,"t":863,"v":0.6},{"k":70,"t":869,"v":0.71},{"k":70,"t":878,"v":0.78},{"k":70,"t":887,"v":0.82},{"k":70,"t":904,"v":0.852},{"k":70,"t":923,"v":0.866},{"k":70,"t":940,"v":0.873},{"k":70,"t":1000,"v":0.88},
{"k":71,"t":0,"v":0},{"k":71,"t":1000,"v":0},
{"k":72,"t":0,"v":0},{"k":72,"t":1000,"v":0},
{"k":73,"t":0,"v":0},{"k":73,"t":660,"v":0},{"k":73,"t":670,"v":0.1},{"k":73,"t":680,"v":0.22},{"k":73,"t":690,"v":0.35},{"k":73,"t":700,"v":0.45},{"k":73,"t":710,"v":0.52},{"k":73,"t":723,"v":0.56},{"k":73,"t":740,"v":0.6},{"k":73,"t":760,"v":0.625},{"k":73,"t":800,"v":0.635},{"k":73,"t":1000,"v":0.635},
{"k":74,"t":0,"v":0},{"k":74,"t":851,"v":0},{"k":74,"t":852,"v":0.4},{"k":74,"t":853,"v":0.7},{"k":74,"t":854,"v":0.82},{"k":74,"t":856,"v":0.875},{"k":74,"t":860,"v":0.895},{"k":74,"t":876,"v":0.902},{"k":74,"t":1000,"v":0.905},
{"k":75,"t":0,"v":0},{"k":75,"t":852,"v":0},{"k":75,"t":853,"v":0.4},{"k":75,"t":854,"v":0.68},{"k":75,"t":855,"v":0.79},{"k":75,"t":857,"v":0.85},{"k":75,"t":861,"v":0.877},{"k":75,"t":877,"v":0.886},{"k":75,"t":1000,"v":0.89},
{"k":76,"t":0,"v":0},{"k":76,"t":851,"v":0},{"k":76,"t":852,"v":0.4},{"k":76,"t":853,"v":0.7},{"k":76,"t":854,"v":0.82},{"k":76,"t":856,"v":0.873},{"k":76,"t":860,"v":0.893},{"k":76,"t":876,"v":0.9},{"k":76,"t":1000,"v":0.903},
{"k":77,"t":0,"v":0},{"k":77,"t":852,"v":0},{"k":77,"t":853,"v":0.4},{"k":77,"t":854,"v":0.68},{"k":77,"t":855,"v":0.8},{"k":77,"t":857,"v":0.86},{"k":77,"t":861,"v":0.885},{"k":77,"t":877,"v":0.892},{"k":77,"t":1000,"v":0.895},
{"k":78,"t":0,"v":0},{"k":78,"t":854,"v":0},{"k":78,"t":856,"v":0.3},{"k":78,"t":858,"v":0.5},{"k":78,"t":861,"v":0.6},{"k":78,"t":867,"v":0.72},{"k":78,"t":876,"v":0.79},{"k":78,"t":885,"v":0.83},{"k":78,"t":902,"v":0.86},{"k":78,"t":921,"v":0.873},{"k":78,"t":938,"v":0.879},{"k":78,"t":1000,"v":0.886},
{"k":79,"t":0,"v":0},{"k":79,"t":657,"v":0},{"k":79,"t":665,"v":0.12},{"k":79,"t":675,"v":0.3},{"k":79,"t":690,"v":0.5},{"k":79,"t":700,"v":0.56},{"k":79,"t":715,"v":0.6},{"k":79,"t":740,"v":0.63},{"k":79,"t":800,"v":0.635},{"k":79,"t":1000,"v":0.635},
{"k":80,"t":0,"v":0},{"k":80,"t":1000,"v":0},
{"k":81,"t":0,"v":0.994},{"k":81,"t":1000,"v":0.994},
{"k":82,"t":0,"v":0},{"k":82,"t":858,"v":0},{"k":82,"t":863,"v":0.03},{"k":82,"t":870,"v":0.08},{"k":82,"t":880,"v":0.17},{"k":82,"t":890,"v":0.3},{"k":82,"t":900,"v":0.43},{"k":82,"t":910,"v":0.56},{"k":82,"t":917,"v":0.66},{"k":82,"t":925,"v":0.76},{"k":82,"t":935,"v":0.85},{"k":82,"t":950,"v":0.92},{"k":82,"t":965,"v":0.955},{"k":82,"t":985,"v":0.975},{"k":82,"t":1000,"v":0.982},
{"k":83,"t":0,"v":0},{"k":83,"t":1000,"v":0},
{"k":84,"t":0,"v":0},{"k":84,"t":851,"v":0},{"k":84,"t":852,"v":0.4},{"k":84,"t":853,"v":0.7},{"k":84,"t":854,"v":0.82},{"k":84,"t":856,"v":0.878},{"k":84,"t":860,"v":0.898},{"k":84,"t":876,"v":0.905},{"k":84,"t":1000,"v":0.908},
{"k":85,"t":0,"v":1},{"k":85,"t":1000,"v":1},
{"k":86,"t":0,"v":0.996},{"k":86,"t":1000,"v":0.996},
{"k":87,"t":0,"v":0},{"k":87,"t":860,"v":0},{"k":87,"t":865,"v":0.03},{"k":87,"t":872,"v":0.08},{"k":87,"t":882,"v":0.17},{"k":87,"t":892,"v":0.3},{"k":87,"t":902,"v":0.43},{"k":87,"t":912,"v":0.56},{"k":87,"t":919,"v":0.66},{"k":87,"t":927,"v":0.76},{"k":87,"t":937,"v":0.85},{"k":87,"t":952,"v":0.92},{"k":87,"t":967,"v":0.955},{"k":87,"t":987,"v":0.975},{"k":87,"t":1000,"v":0.98},
{"k":88,"t":0,"v":0.05},{"k":88,"t":1000,"v":0.05},
{"k":89,"t":0,"v":1},{"k":89,"t":1000,"v":1},
{"k":90,"t":0,"v":0},{"k":90,"t":862,"v":0},{"k":90,"t":867,"v":0.03},{"k":90,"t":874,"v":0.08},{"k":90,"t":884,"v":0.17},{"k":90,"t":894,"v":0.3},{"k":90,"t":904,"v":0.43},{"k":90,"t":914,"v":0.56},{"k":90,"t":921,"v":0.66},{"k":90,"t":929,"v":0.76},{"k":90,"t":939,"v":0.85},{"k":90,"t":954,"v":0.92},{"k":90,"t":969,"v":0.955},{"k":90,"t":989,"v":0.975},{"k":90,"t":1000,"v":0.979},
{"k":91,"t":0,"v":0},{"k":91,"t":1000,"v":0},
{"k":92,"t":0,"v":0.994},{"k":92,"t":1000,"v":0.994}
]
},
"data":{"name":"pts"},
"transform":[{"lookup":"k","from":{"data":{"name":"names"},"key":"k","fields":["n"]}}],
"encoding":{
"x":{"field":"t","type":"quantitative","scale":{"domain":[0,1000],"nice":false,"zero":false},
"axis":{"title":null,"grid":false,"format":"d","values":[0,8.333,16.667,25,33.333,41.667,50,58.333,66.667,75,83.333,91.667,100,108.333,116.667,125,133.333,141.667,150,158.333,166.667,175,183.333,191.667,200,208.333,216.667,225,233.333,241.667,250,258.333,266.667,275,283.333,291.667,300,308.333,316.667,325,333.333,341.667,350,358.333,366.667,375,383.333,391.667,400,408.333,416.667,425,433.333,441.667,450,458.333,466.667,475,483.333,491.667,500,508.333,516.667,525,533.333,541.667,550,558.333,566.667,575,583.333,591.667,600,608.333,616.667,625,633.333,641.667,650,658.333,666.667,675,683.333,691.667,700,708.333,716.667,725,733.333,741.667,750,758.333,766.667,775,783.333,791.667,800,808.333,816.667,825,833.333,841.667,850,858.333,866.667,875,883.333,891.667,900,908.333,916.667,925,933.333,941.667,950,958.333,966.667,975,983.333,991.667,1000],
"labelExpr":"datum.value % 50 === 0 ? datum.label : ''","labelOverlap":false,"labelFlush":false,"labelBound":false,
"tickSize":5,"tickColor":"#BFBFBF","domainColor":"#BFBFBF","labelFont":"Lato","labelFontSize":14.5,"labelColor":"#262626","labelPadding":6}},
"y":{"field":"v","type":"quantitative","scale":{"domain":[0,1.1],"nice":false},
"axis":{"title":null,"values":[0,0.1,0.2,0.3,0.4,0.5,0.6,0.7,0.8,0.9,1,1.1],"format":".1~f","grid":true,"gridColor":"#D9D9D9","gridWidth":1.3,"domain":false,"ticks":false,"labelPadding":8,"labelFont":"Lato","labelFontSize":14.5,"labelColor":"#262626"}},
"color":{"field":"n","type":"nominal",
"scale":{"domain":["X1 - a_A","X2 - b_A","X3 - c_A","X4 - d_A","X5 - a_B","X6 - b_B","X7 - c_B","X8 - d_B","X9 - a_C","X10 - b_C","X11 - c_C","X12 - d_C","X13 - a_D","X14 - b_D","X15 - c_D","X16 - d_D","X17 - a_T1","X18 - b_T1","X19 - c_T1","X20 - d_T1","X21 - a_T2","X22 - b_T2","X23 - c_T2","X24 - d_T2","X25 - a_O","X26 - b_O","X27 - c_O","X28 - d_O","X29 - con_ph1","X30 - con_ph2","X31 - con_ph3","X32 - con_ph4","X33 - con_ph5","X34 - con_ph6","X35 - Wa_A,b_A","X36 - Wb_A,c_A","X37 - Wc_A,d_A","X38 - Wa_B,b_B","X39 - Wb_B,c_B","X40 - Wc_B,d_B","X41 - Wa_C,b_C","X42 - Wb_C,c_C","X43 - Wc_C,d_C","X44 - Wa_D,b_D","X45 - Wb_D,c_D","X46 - Wc_D,d_D","X47 - Wa_T1,b_T1","X48 - Wb_T1,c_T1","X49 - Wc_T1,d_T1","X50 - Wa_T2,b_T2","X51 - Wb_T2,c_T2","X52 - Wc_T2,d_T2","X53 - Wa_O,b_O","X54 - Wb_O,c_O","X55 - Wc_O,d_O","X56 - W-Wa_T1,b_T1,Wa_A,b_A","X57 - W-Wb_T1,c_T1,Wb_A,c_A","X58 - W-Wc_T1,d_T1,Wc_A,d_A","X59 - W-Wa_T1,b_T1,Wa_B,b_B","X60 - W-Wb_T1,c_T1,Wb_B,c_B","X61 - W-Wc_T1,d_T1,Wc_B,d_B","X62 - W-Wa_T2,b_T2,Wa_C,b_C","X63 - W-Wb_T2,c_T2,Wb_C,c_C","X64 - W-Wc_T2,d_T2,Wc_C,d_C","X65 - W-Wa_T2,b_T2,Wa_D,b_D","X66 - W-Wb_T2,c_T2,Wb_D,c_D","X67 - W-Wc_T2,d_T2,Wc_D,d_D","X68 - W-Wa_O,b_O,Wa_T1,b_T1","X69 - W-Wb_O,c_O,Wb_T1,c_T1","X70 - W-Wc_O,d_O,Wc_T1,d_T1","X71 - W-Wa_O,b_O,Wa_T2,b_T2","X72 - W-Wb_O,c_O,Wb_T2,c_T2","X73 - W-Wc_O,d_O,Wc_T2,d_T2","X74 - H-W-A","X75 - H-W-B","X76 - H-W-C","X77 - H-W-D","X78 - H-W-T1","X79 - H-W-T2","X80 - H-W-O","X81 - M-Wa_A,b_A","X82 - M-Wb_A,c_A","X83 - M-Wc_A,d_A","X84 - M-Wa_B,b_B","X85 - M-Wb_B,c_B","X86 - M-Wc_B,d_B","X87 - M-Wa_C,b_C","X88 - M-Wb_C,c_C","X89 - M-Wc_C,d_C","X90 - M-Wa_D,b_D","X91 - M-Wb_D,c_D","X92 - M-Wc_D,d_D"],
"range":["#4F81BD","#C0504D","#9BBB59","#8064A2","#4BACC6","#F79646","#2C4D75","#772C2A","#5F7530","#4D3B62","#276A7C","#B65708","#729ACA","#CD7371","#AFC97A","#9983B5","#6FBDD1","#F9AB6B","#4572A7","#AA4643","#77933C","#604A7B","#31859C","#F07F1E","#85A9D6","#D99694","#C3D69B","#B3A2C7","#A5D5E2","#FAC090","#3F5373","#632523","#6B7E42","#5E4F78","#4F8C97","#B9794A","#95B3D7","#DA8A88","#C4D79B","#BFB1D0","#93CDDD","#FAC08F","#2C4D75","#772C2A","#5F7530","#403151","#215968","#E46C0A","#B9CDE5","#F0B8B7","#D7E4BD","#CCC1DA","#B7DEE8","#FCD5B5","#558ED5","#D0625F","#9BBB59","#8064A2","#4BACC6","#F79646","#1F497D","#7F1F1C","#4F6228","#3F3151","#31859C","#B3671E","#8DB3E2","#D99694","#C3D69B","#B3A2C7","#93CDDD","#FAC090","#4A7EBB","#BE4B48","#98B954","#7D60A0","#46AAC5","#F69240","#A7C0DE","#E0A3A1","#CDDEAC","#C4B6D6","#A3D3E3","#1F3B5F","#8E4A48","#6D8442","#6A5A82","#3C7C8C","#C07A3E","#A9C4E4","#E0A8A6","#D4E2BD"]},
"legend":{"title":null,"orient":"none","direction":"horizontal","legendX":-32,"legendY":578,"columns":4,"gridAlign":"all","columnPadding":11,"rowPadding":2.2,"symbolType":"M-1,0H12","symbolSize":64,"symbolStrokeWidth":1.6,"labelFont":"Lato","labelFontSize":12.3,"labelOffset":47,"labelLimit":400,"labelColor":"#000000","symbolLimit":100}}
},
"layer":[
{"transform":[{"filter":{"not":{"field":"k","oneOf":[13,33,34,35,36,55,56,66,67,68,69,70,71,72]}}}],"mark":{"type":"line","strokeWidth":1.5,"interpolate":"monotone","clip":true}},
{"transform":[{"filter":{"field":"k","oneOf":[13,33,34,35,36,55,56,66,67,68,69,70,71,72]}}],"mark":{"type":"line","strokeWidth":2.2,"interpolate":"monotone","clip":true}}
]
}
